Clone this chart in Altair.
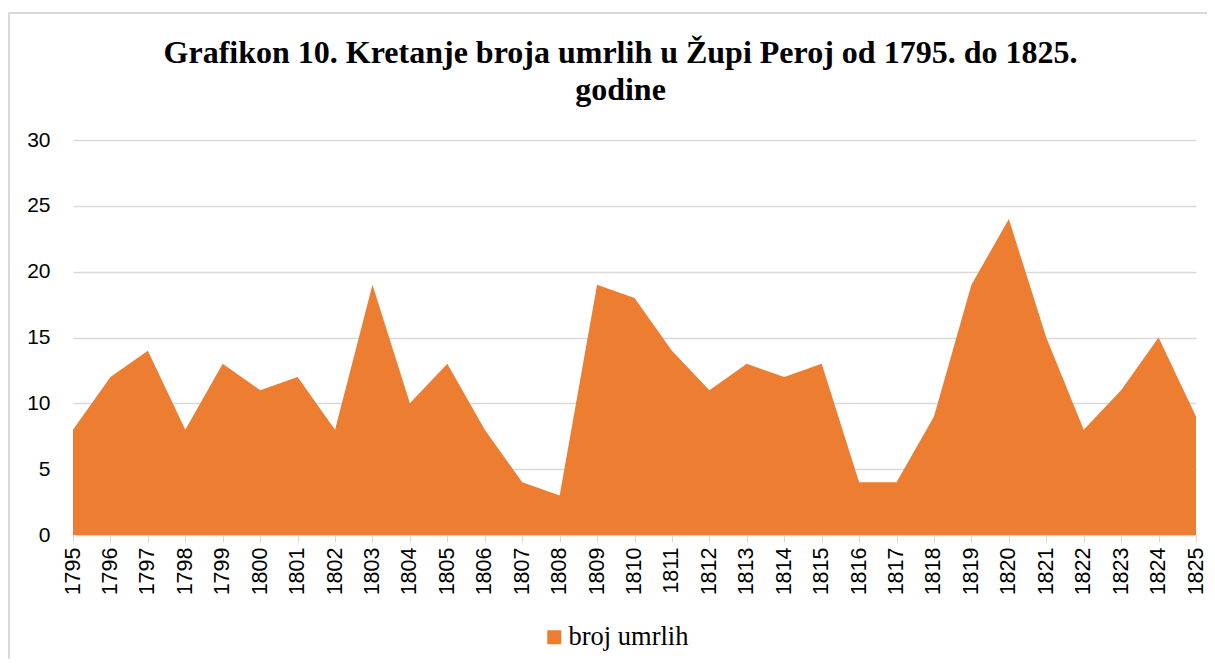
import altair as alt
import pandas as pd

years = list(range(1795, 1826))
deaths = [8, 12, 14, 8, 13, 11, 12, 8, 19, 10, 13, 8, 4, 3, 19, 18, 14, 11, 13, 12, 13, 4, 4, 9, 19, 24, 15, 8, 11, 15, 9]
series_name = "broj umrlih"
title_lines = ["Grafikon 10. Kretanje broja umrlih u Župi Peroj od 1795. do 1825.", "godine"]

df = pd.DataFrame({"godina": years, "umrli": deaths, "serija": [series_name] * len(years)})

W, H = 1123, 395
L, T = 65, 132
R, B = 11, 124

area = alt.Chart(df).mark_area(color="#ED7D31", opacity=1).encode(
    x=alt.X("godina:Q", scale=alt.Scale(domain=[1795, 1825], nice=False, zero=False),
            axis=alt.Axis(values=years, format="d", labelAngle=-90, title=None,
                          grid=False, domainColor="#d9d9d9", tickColor="#d9d9d9",
                          tickSize=7, labelPadding=5, labelFontSize=21.5,
                          labelFont="Liberation Sans", labelColor="#000000",
                          labelFlush=False, labelOverlap=False)),
    y=alt.Y("umrli:Q", scale=alt.Scale(domain=[0, 30], nice=False),
            axis=alt.Axis(values=[0, 5, 10, 15, 20, 25, 30], title=None, domain=False,
                          ticks=False, labelPadding=23, labelFontSize=21,
                          labelFont="Liberation Sans", labelColor="#000000",
                          gridColor="#d9d9d9", gridWidth=1.3)),
    fill=alt.Fill("serija:N", scale=alt.Scale(range=["#ED7D31"]),
                  legend=alt.Legend(title=None, orient="none", legendX=468, legendY=484,
                                    symbolType="square", symbolSize=196, symbolStrokeWidth=0,
                                    labelFont="Liberation Serif", labelFontSize=26.5,
                                    labelColor="#000000", symbolOffset=0, labelOffset=1)),
)

border = alt.Chart(df).mark_rect(fill=None, stroke="#d9d9d9", strokeWidth=1.5, clip=False).encode(
    x=alt.value(9 - 8 - L), x2=alt.value(1213 - 8 - L),
    y=alt.value(13 - 8 - T), y2=alt.value(700 - 8 - T),
)

chart = alt.layer(border, area).properties(
    width=W, height=H,
    title=alt.Title(title_lines, font="Liberation Serif", fontSize=32, fontWeight="bold",
                    color="#000000", anchor="middle", offset=-94.5, dx=-14, lineHeight=37),
    autosize=alt.AutoSizeParams(type="none"),
    padding={"left": L, "top": T, "right": R, "bottom": B},
).configure_view(stroke=None)

chart.save("out.html", embed_options={"renderer": "svg", "actions": False})
